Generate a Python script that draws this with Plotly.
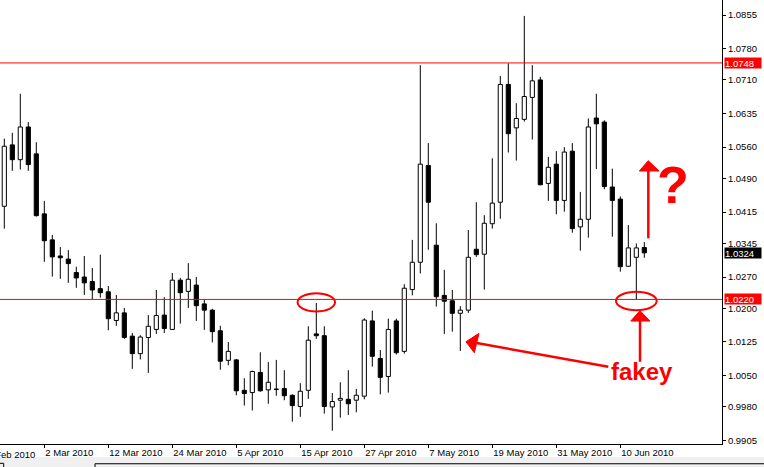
import plotly.graph_objects as go

# ---------------- data (daily bars) ----------------
tick_index = [5, 13, 21, 29, 37, 45, 53, 61, 69, 77]
tick_labels = ["2 Mar 2010", "12 Mar 2010", "24 Mar 2010", "5 Apr 2010", "15 Apr 2010",
               "27 Apr 2010", "7 May 2010", "19 May 2010", "31 May 2010", "10 Jun 2010"]
clipped_tick_index = -3
clipped_tick_label = "18 Feb 2010"

opens = [1.0428, 1.0565, 1.0532, 1.0605, 1.0545, 1.0411, 1.0353, 1.0317, 1.0310, 1.0280,
         1.0270, 1.0260, 1.0244, 1.0237, 1.0173, 1.0190, 1.0138, 1.0099, 1.0135, 1.0153,
         1.0185, 1.0153, 1.0263, 1.0238, 1.0252, 1.0210, 1.0196, 1.0150, 1.0084, 1.0085,
         1.0017, 1.0012, 1.0057, 1.0018, 1.0020, 1.0021, 1.0006, 0.9981, 1.0017, 1.0143,
         1.0139, 0.9980, 0.9995, 0.9997, 0.9995, 1.0004, 1.0172, 1.0088, 1.0048, 1.0172,
         1.0104, 1.0242, 1.0303, 1.0519, 1.0341, 1.0229, 1.0217, 1.0189, 1.0196, 1.0332,
         1.0321, 1.0389, 1.0437, 1.0700, 1.0603, 1.0622, 1.0671, 1.0710, 1.0479, 1.0522,
         1.0441, 1.0551, 1.0382, 1.0399, 1.0625, 1.0616, 1.0471, 1.0444, 1.0294, 1.0314,
         1.0336]
highs = [1.0579, 1.0592, 1.0679, 1.0616, 1.0571, 1.0440, 1.0364, 1.0337, 1.0330, 1.0293,
         1.0317, 1.0290, 1.0320, 1.0250, 1.0230, 1.0201, 1.0145, 1.0140, 1.0185, 1.0241,
         1.0225, 1.0279, 1.0268, 1.0301, 1.0270, 1.0220, 1.0199, 1.0161, 1.0125, 1.0087,
         1.0044, 1.0061, 1.0102, 1.0080, 1.0085, 1.0062, 1.0008, 1.0033, 1.0160, 1.0212,
         1.0160, 1.0011, 1.0035, 1.0062, 1.0020, 1.0178, 1.0195, 1.0107, 1.0177, 1.0177,
         1.0254, 1.0353, 1.0743, 1.0569, 1.0390, 1.0286, 1.0241, 1.0205, 1.0375, 1.0437,
         1.0408, 1.0535, 1.0719, 1.0747, 1.0658, 1.0853, 1.0743, 1.0717, 1.0538, 1.0551,
         1.0560, 1.0569, 1.0460, 1.0624, 1.0679, 1.0620, 1.0512, 1.0450, 1.0386, 1.0345,
         1.0348]
lows = [1.0378, 1.0507, 1.0510, 1.0507, 1.0405, 1.0304, 1.0271, 1.0266, 1.0257, 1.0246,
        1.0230, 1.0220, 1.0224, 1.0151, 1.0161, 1.0132, 1.0065, 1.0086, 1.0056, 1.0143,
        1.0145, 1.0152, 1.0166, 1.0201, 1.0172, 1.0152, 1.0124, 1.0063, 1.0073, 1.0006,
        0.9983, 0.9972, 1.0014, 0.9987, 1.0005, 0.9995, 0.9947, 0.9958, 0.9998, 1.0132,
        0.9965, 0.9927, 0.9956, 0.9962, 0.9968, 0.9997, 1.0070, 1.0008, 1.0012, 1.0097,
        1.0099, 1.0229, 1.0278, 1.0331, 1.0204, 1.0143, 1.0148, 1.0105, 1.0190, 1.0315,
        1.0242, 1.0378, 1.0400, 1.0548, 1.0530, 1.0617, 1.0577, 1.0475, 1.0440, 1.0410,
        1.0416, 1.0369, 1.0329, 1.0358, 1.0511, 1.0466, 1.0360, 1.0282, 1.0293, 1.0219,
        1.0313]
closes = [1.0562, 1.0532, 1.0605, 1.0521, 1.0407, 1.0351, 1.0315, 1.0313, 1.0300, 1.0268,
          1.0257, 1.0241, 1.0235, 1.0177, 1.0190, 1.0135, 1.0099, 1.0136, 1.0160, 1.0184,
          1.0155, 1.0263, 1.0235, 1.0265, 1.0206, 1.0196, 1.0148, 1.0082, 1.0104, 1.0016,
          1.0010, 1.0059, 1.0016, 1.0035, 1.0019, 1.0005, 0.9983, 1.0015, 1.0129, 1.0139,
          0.9981, 0.9992, 0.9999, 0.9987, 1.0006, 1.0174, 1.0093, 1.0046, 1.0153, 1.0101,
          1.0245, 1.0303, 1.0522, 1.0437, 1.0226, 1.0216, 1.0189, 1.0196, 1.0314, 1.0320,
          1.0390, 1.0435, 1.0700, 1.0590, 1.0624, 1.0673, 1.0708, 1.0476, 1.0515, 1.0441,
          1.0549, 1.0378, 1.0399, 1.0605, 1.0612, 1.0472, 1.0441, 1.0293, 1.0335, 1.0335,
          1.0324]

price_ticks = [1.0855, 1.0780, 1.0710, 1.0635, 1.0560, 1.0490, 1.0415, 1.0345,
               1.0270, 1.0200, 1.0125, 1.0050, 0.9980, 0.9905]
level_top = 1.0748
level_bottom = 1.0220
last_price = 1.0324

# annotation overlay (drawn by hand on the original screenshot)
ellipse_left = dict(x0=36.66, x1=41.34, y0=1.0193, y1=1.0234)
ellipse_right = dict(x0=76.46, x1=81.54, y0=1.0196, y1=1.0237)
arrow_fakey_left = dict(line=[(75.5, 1.00697), (59.05, 1.01226)],
                        head=[(57.71, 1.01255), (59.34, 1.01442), (58.75, 1.01009)])
arrow_fakey_up = dict(line=[(79.46, 1.00808), (79.46, 1.01717)],
                      head=[(79.46, 1.01947), (78.3, 1.01717), (80.71, 1.01717)])
arrow_top = dict(line=[(80.5, 1.03564), (80.5, 1.05067)],
                 head=[(80.5, 1.05297), (79.375, 1.05067), (81.84, 1.05067)])
fakey_pos = (79.72, 1.0058)
question_pos = (83.6, 1.0476)

x_range = [-0.5375, 89.71]
y_range = [0.98972, 1.08885]

RED = "#ff0000"
FONT = "Liberation Sans"

# ---------------- build ----------------
n = len(opens)
idx = list(range(n))
body_base = [min(o, c) for o, c in zip(opens, closes)]
body_h = [max(abs(c - o), 0.00008) for o, c in zip(opens, closes)]
body_col = ["white" if c > o else "black" for o, c in zip(opens, closes)]

wx, wy = [], []
for i in idx:
    top = max(opens[i], closes[i])
    bot = min(opens[i], closes[i])
    wx += [i, i, None, i, i, None]
    wy += [highs[i], top, None, bot, lows[i], None]

fig = go.Figure()
fig.add_trace(go.Scatter(x=wx, y=wy, mode="lines", line=dict(color="black", width=1),
                         hoverinfo="skip", showlegend=False))
fig.add_trace(go.Bar(x=idx, y=body_h, base=body_base, width=0.52,
                     marker=dict(color=body_col, line=dict(color="black", width=1)),
                     hoverinfo="skip", showlegend=False))

shapes = []
for lv in (level_top, level_bottom):
    shapes.append(dict(type="line", xref="paper", x0=0, x1=1, yref="y", y0=lv, y1=lv,
                       line=dict(color=RED, width=1)))
for e in (ellipse_left, ellipse_right):
    shapes.append(dict(type="circle", xref="x", yref="y", line=dict(color=RED, width=2), **e))
for a in (arrow_fakey_left, arrow_fakey_up, arrow_top):
    (x0, y0), (x1, y1) = a["line"]
    shapes.append(dict(type="line", xref="x", yref="y", x0=x0, y0=y0, x1=x1, y1=y1,
                       line=dict(color=RED, width=2.5)))
    p = a["head"]
    path = "M {},{} L {},{} L {},{} Z".format(p[0][0], p[0][1], p[1][0], p[1][1], p[2][0], p[2][1])
    shapes.append(dict(type="path", xref="x", yref="y", path=path, fillcolor=RED,
                       line=dict(color=RED, width=1)))

# bottom window strip (terminal tabs)
shapes += [
    dict(type="rect", xref="paper", yref="paper", x0=0, x1=1.06, y0=-0.0293, y1=-0.06,
         fillcolor="#f0f0f0", line=dict(width=0), layer="below"),
    dict(type="line", xref="paper", yref="paper", x0=0.1316, x1=1.06, y0=-0.0445, y1=-0.0445,
         line=dict(color="black", width=1)),
    dict(type="line", xref="paper", yref="paper", x0=0.1316, x1=0.1316, y0=-0.0445, y1=-0.06,
         line=dict(color="black", width=1)),
    dict(type="line", xref="paper", yref="paper", x0=0, x1=0.0051, y0=-0.0435, y1=-0.0435,
         line=dict(color="black", width=1)),
    dict(type="line", xref="paper", yref="paper", x0=0.0051, x1=0.0051, y0=-0.0435, y1=-0.06,
         line=dict(color="black", width=1)),
]

annotations = []
# clipped first date label
annotations.append(dict(xref="paper", yref="paper",
                        x=(clipped_tick_index - x_range[0]) / (x_range[1] - x_range[0]),
                        y=0, yshift=-3, xanchor="left", yanchor="top", showarrow=False,
                        text=clipped_tick_label, font=dict(family=FONT, size=9.5, color="black")))
# price tags
for val, bg in ((level_top, RED), (last_price, "black"), (level_bottom, RED)):
    annotations.append(dict(xref="paper", x=1, xshift=2, xanchor="left", yref="y", y=val,
                            yanchor="middle", text="{:.4f}".format(val), showarrow=False,
                            bgcolor=bg, font=dict(family=FONT, size=9.5, color="white"),
                            width=36, height=10, borderpad=0, align="left"))
annotations.append(dict(x=fakey_pos[0], y=fakey_pos[1], xref="x", yref="y", text="fakey",
                        showarrow=False, xanchor="center", yanchor="middle",
                        font=dict(family="Liberation Sans", size=24, color=RED, weight="bold")))
annotations.append(dict(x=question_pos[0], y=question_pos[1], xref="x", yref="y", text="?",
                        showarrow=False, xanchor="center", yanchor="middle",
                        font=dict(family="Liberation Sans", size=52, color=RED, weight="bold")))

fig.update_layout(
    template="none",
    width=764, height=467,
    margin=dict(l=0, r=42, t=0, b=23, pad=0),
    paper_bgcolor="white", plot_bgcolor="white",
    showlegend=False, barmode="overlay",
    shapes=shapes, annotations=annotations,
    xaxis=dict(range=x_range, showgrid=False, zeroline=False, showline=True,
               linecolor="black", linewidth=1, ticks="outside", ticklen=3,
               tickcolor="black", tickvals=tick_index, ticktext=tick_labels,
               ticklabelposition="outside right", automargin=False,
               tickfont=dict(family=FONT, size=9.5, color="black")),
    yaxis=dict(range=y_range, side="right", showgrid=False, zeroline=False,
               showline=True, linecolor="black", linewidth=1, ticks="outside",
               ticklen=3, tickcolor="black", tickvals=price_ticks,
               ticktext=["{:.4f}".format(v) for v in price_ticks], automargin=False,
               tickfont=dict(family=FONT, size=9.5, color="black")),
)

fig.write_html("out.html", config={"displayModeBar": False, "staticPlot": True},
               post_script="document.body.style.margin='0px';document.body.style.overflow='hidden';")
